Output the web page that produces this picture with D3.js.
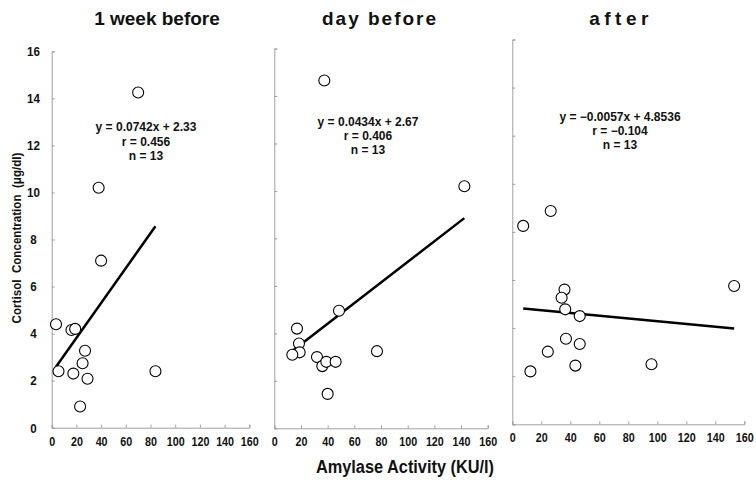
<!DOCTYPE html>
<html>
<head>
<meta charset="utf-8">
<script src="https://cdn.jsdelivr.net/npm/d3@7/dist/d3.min.js"></script>
<style>
  html, body { margin: 0; padding: 0; background: #fff; }
  svg { display: block; }
  text { font-family: "Liberation Sans", Arial, sans-serif; font-weight: bold; fill: #111; }
</style>
</head>
<body>
<svg id="chart" width="756" height="480"></svg>
<script>
// Panel titles (sampling time relative to the event)
const panelTitles = ["1 week before", "day before", "after"];

// Amylase activity (KU/l) and cortisol concentration (µg/dl), one pair of arrays per panel
const amylaseWeekBefore = [70, 38, 40, 3.5, 16, 19, 27, 25, 5.5, 17.5, 29, 23, 84];
const cortisolWeekBefore = [14.25, 10.2, 7.1, 4.4, 4.15, 4.2, 3.27, 2.74, 2.4, 2.3, 2.08, 0.9, 2.4];

const amylaseDayBefore = [37.5, 142.5, 48.5, 17, 18.5, 19, 13.5, 32, 36, 39, 46, 77, 40];
const cortisolDayBefore = [14.65, 10.2, 4.95, 4.2, 3.57, 3.2, 3.1, 3.0, 2.62, 2.8, 2.8, 3.25, 1.45];

const amylaseAfter = [7.5, 26.5, 36, 34, 36.5, 46.5, 37, 46.5, 24.5, 12.5, 43.5, 96, 153];
const cortisolAfter = [8.25, 8.87, 5.6, 5.26, 4.78, 4.5, 3.56, 3.34, 3.02, 2.2, 2.44, 2.5, 5.75];

// Regression results per panel
const slopes = [0.0742, 0.0434, -0.0057];
const intercepts = [2.33, 2.67, 4.8536];
const rValues = [0.456, 0.406, -0.104];
const nValues = [13, 13, 13];

// Axis ticks
const xTicks = [0, 20, 40, 60, 80, 100, 120, 140, 160];
const yTicks = [0, 2, 4, 6, 8, 10, 12, 14, 16];

const xLabel = "Amylase Activity (KU/l)";
const yLabel = "Cortisol  Concentration  (μg/dl)";

const series = [
  { x: amylaseWeekBefore, y: cortisolWeekBefore },
  { x: amylaseDayBefore, y: cortisolDayBefore },
  { x: amylaseAfter, y: cortisolAfter }
];

// Pixel frame of each panel: x range for 0..160, y range for 0..16
const frames = [
  { x0: 51.7, x1: 249.3, y0: 427.7, y1: 51.3, titleX: 157, titleSpacing: 0, eqX: 146, eqY: [127, 141.5, 156] },
  { x0: 274.3, x1: 487.7, y0: 428.3, y1: 48.5, titleX: 380, titleSpacing: 2, eqX: 368, eqY: [122, 136, 150] },
  { x0: 512.3, x1: 744.3, y0: 424.3, y1: 39.5, titleX: 621, titleSpacing: 4.5, eqX: 620, eqY: [117, 131, 145] }
];

// Condensed lettering: horizontal squeeze of a regular bold face
const SQUEEZE = 0.86;

const svg = d3.select("#chart");
const minus = s => String(s).replace("-", "\u2212");

frames.forEach((f, i) => {
  const xScale = d3.scaleLinear().domain([0, 160]).range([f.x0, f.x1]);
  const yScale = d3.scaleLinear().domain([0, 16]).range([f.y0, f.y1]);
  const g = svg.append("g");

  // x axis: thin grey baseline, short ticks pointing up
  const xAxis = g.append("g")
    .attr("transform", `translate(0,${f.y0})`)
    .call(d3.axisBottom(xScale).tickValues(xTicks).tickSize(-3).tickPadding(9).tickFormat(d3.format("d")));
  xAxis.select(".domain").attr("stroke", "#a0a0a0").attr("stroke-width", 1);
  xAxis.selectAll(".tick line").attr("stroke", "#a0a0a0");
  xAxis.selectAll(".tick text")
    .attr("transform", `scale(${SQUEEZE},1)`)
    .attr("font-size", 12.5).attr("font-family", "Liberation Sans, Arial, sans-serif")
    .attr("font-weight", "bold").attr("fill", "#111");

  // y axis: ticks pointing right; labels only on the first panel
  const yAxis = g.append("g")
    .attr("transform", `translate(${f.x0},0)`)
    .call(d3.axisRight(yScale).tickValues(yTicks).tickSize(3).tickFormat(i === 0 ? d3.format("d") : ""));
  yAxis.select(".domain").attr("stroke", "#a0a0a0").attr("stroke-width", 1);
  yAxis.selectAll(".tick line").attr("stroke", "#a0a0a0");
  if (i === 0) {
    yAxis.selectAll(".tick text")
      .attr("transform", `scale(${SQUEEZE},1)`)
      .attr("x", (33.5 - f.x0) / SQUEEZE).attr("text-anchor", "middle")
      .attr("font-size", 13.5).attr("font-family", "Liberation Sans, Arial, sans-serif")
      .attr("font-weight", "bold").attr("fill", "#111");
  }

  // Regression line over the observed amylase range
  const xs = series[i].x;
  const lx = d3.extent(xs);
  const line = d3.line().x(d => xScale(d)).y(d => yScale(slopes[i] * d + intercepts[i]));
  g.append("path")
    .datum(lx)
    .attr("d", line)
    .attr("fill", "none")
    .attr("stroke", "#000")
    .attr("stroke-width", 2.5);

  // Observations as open circles
  g.selectAll("circle")
    .data(d3.range(xs.length))
    .join("circle")
    .attr("cx", k => xScale(xs[k]))
    .attr("cy", k => yScale(series[i].y[k]))
    .attr("r", 5.5)
    .attr("fill", "#fff")
    .attr("stroke", "#000")
    .attr("stroke-width", 1.1);

  // Regression equation, correlation and sample size
  const eqLines = [
    `y = ${minus(slopes[i])}x + ${intercepts[i]}`,
    `r = ${minus(rValues[i])}`,
    `n = ${nValues[i]}`
  ];
  g.selectAll("text.eq")
    .data(eqLines)
    .join("text")
    .attr("class", "eq")
    .attr("x", f.eqX)
    .attr("y", (d, k) => f.eqY[k])
    .attr("dy", "0.35em")
    .attr("text-anchor", "middle")
    .attr("font-size", 12)
    .text(d => d);

  // Panel title
  g.append("text")
    .attr("x", f.titleX)
    .attr("y", 18)
    .attr("dy", "0.35em")
    .attr("text-anchor", "middle")
    .attr("font-size", 19)
    .attr("letter-spacing", f.titleSpacing)
    .text(panelTitles[i]);
});

// Shared axis titles
svg.append("text")
  .attr("transform", `translate(405,466) scale(${SQUEEZE},1)`)
  .attr("dy", "0.35em")
  .attr("text-anchor", "middle")
  .attr("font-size", 19)
  .text(xLabel);

svg.append("text")
  .attr("transform", `translate(16,238) rotate(-90) scale(${SQUEEZE},1)`)
  .attr("dy", "0.35em")
  .attr("text-anchor", "middle")
  .attr("font-size", 13.5)
  .attr("xml:space", "preserve")
  .style("white-space", "pre")
  .text(yLabel);
</script>
</body>
</html>
